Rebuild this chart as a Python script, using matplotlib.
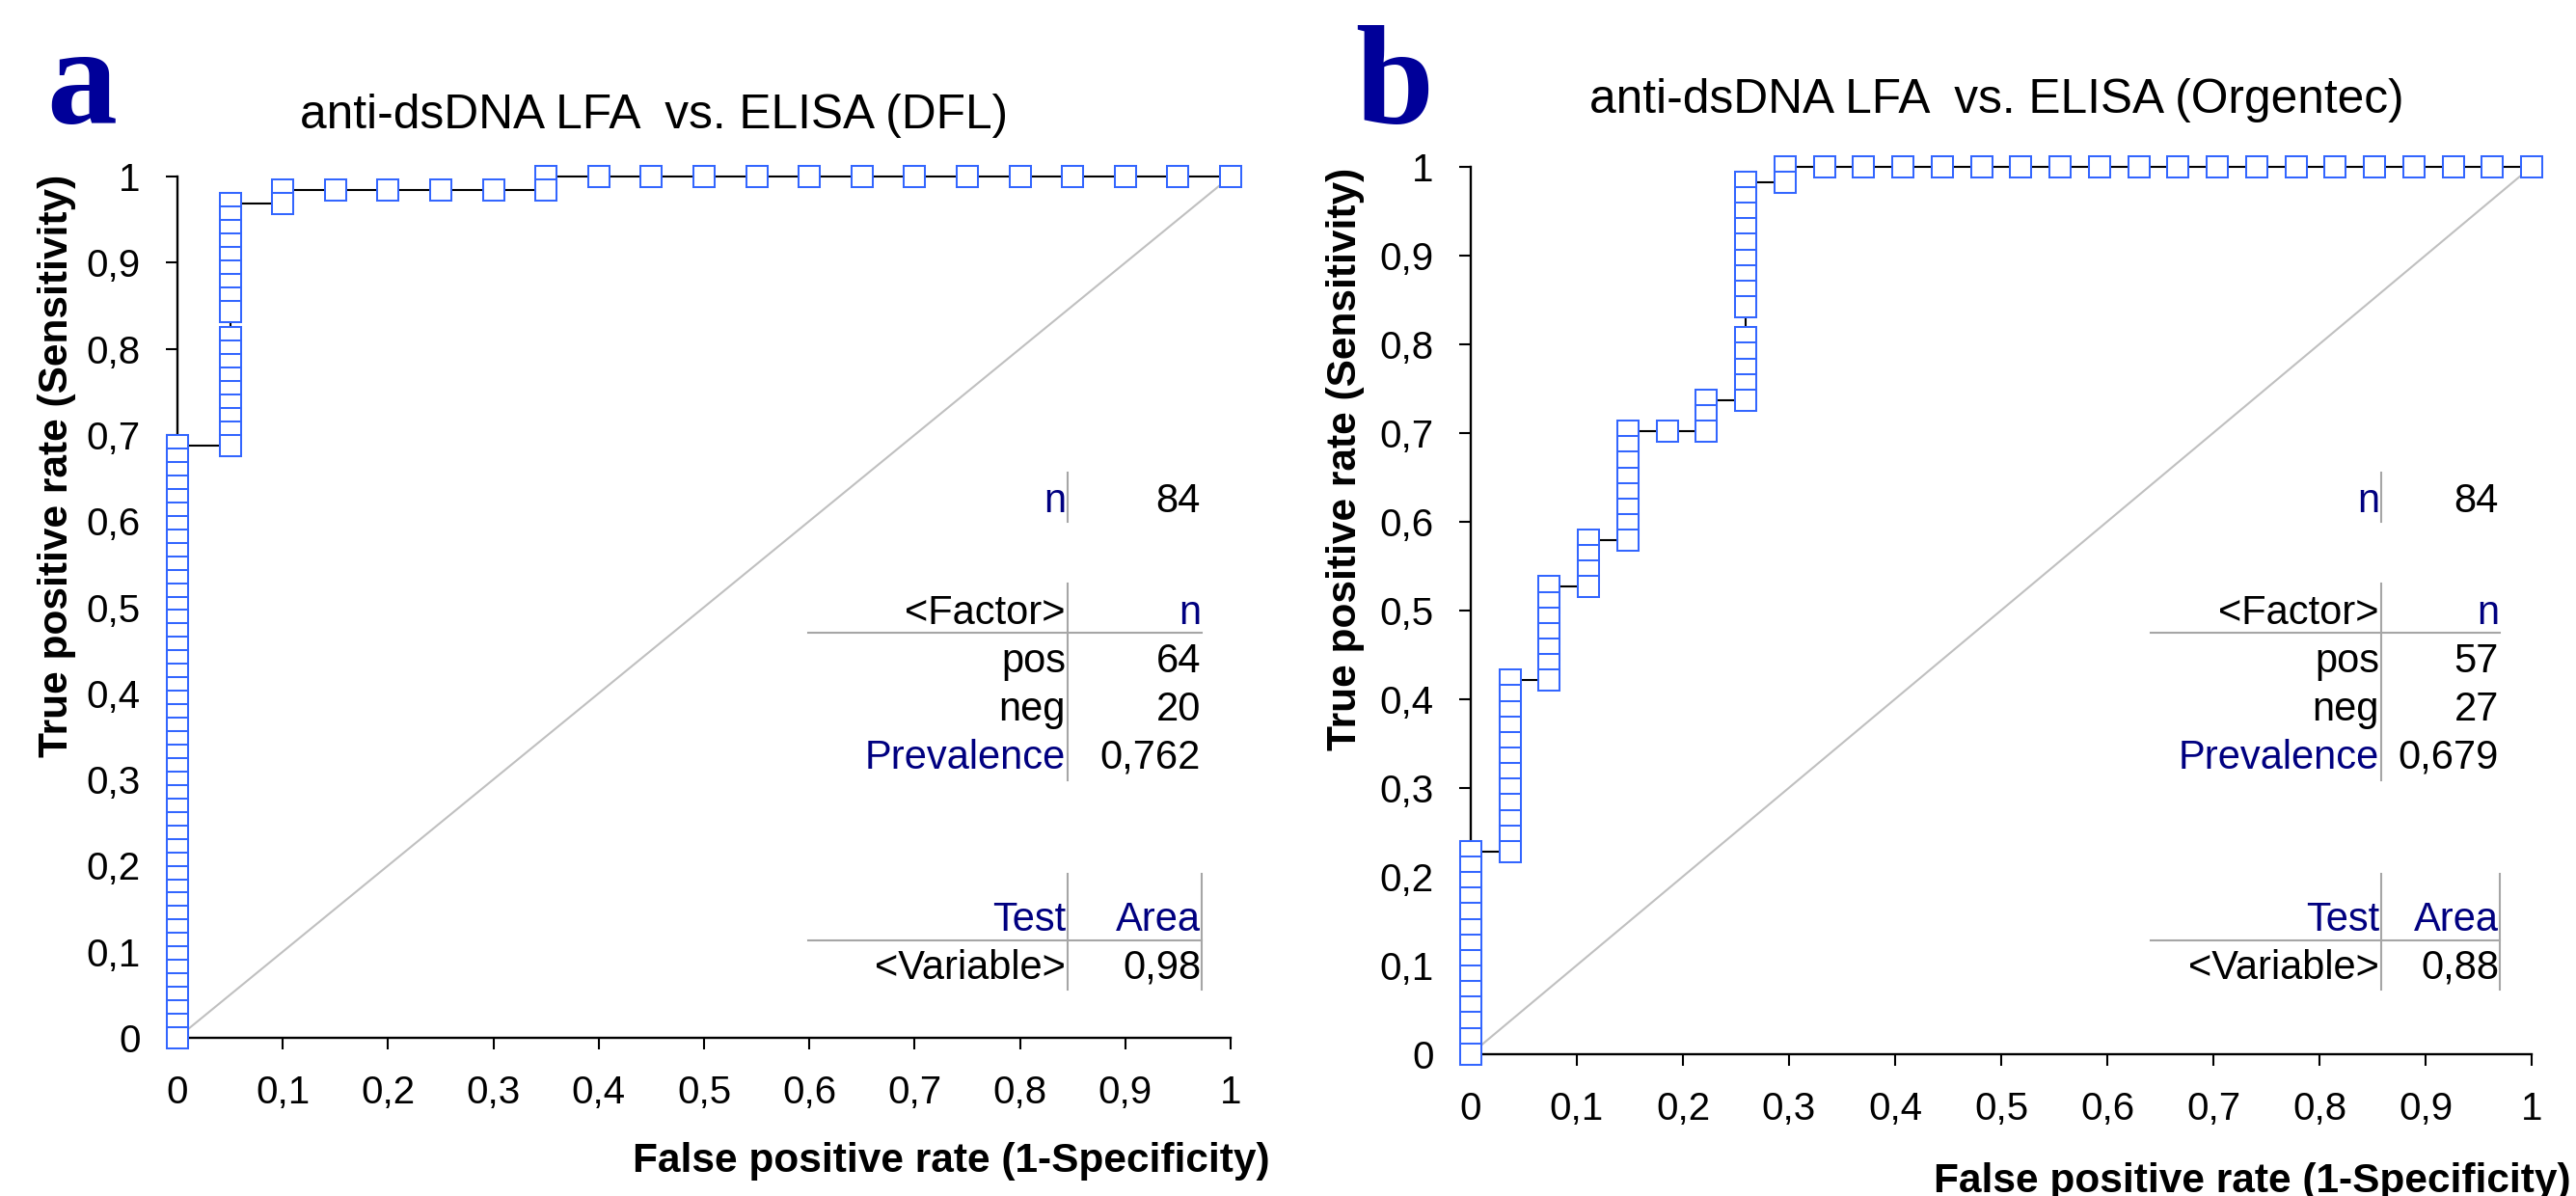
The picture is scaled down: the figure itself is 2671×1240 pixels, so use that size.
import matplotlib
matplotlib.use("Agg")
import matplotlib.pyplot as plt
from matplotlib.lines import Line2D
from matplotlib.ticker import FuncFormatter

W, H = 2671, 1240
DPI = 100

plt.rcParams['font.family'] = ['Liberation Sans', 'DejaVu Sans']

# ROC steps: (false positives, first true positive, last true positive)
dfl_runs = [(0, 0, 44), (1, 44, 52), (1, 54, 62), (2, 62, 63), (3, 63, 63),
            (4, 63, 63), (5, 63, 63), (6, 63, 63), (7, 63, 64),
            (8, 64, 64), (9, 64, 64), (10, 64, 64), (11, 64, 64), (12, 64, 64),
            (13, 64, 64), (14, 64, 64), (15, 64, 64), (16, 64, 64), (17, 64, 64),
            (18, 64, 64), (19, 64, 64), (20, 64, 64)]
org_runs = [(0, 0, 13), (1, 13, 24), (2, 24, 30), (3, 30, 33), (4, 33, 40),
            (5, 40, 40), (6, 40, 42), (7, 42, 46), (7, 48, 56), (8, 56, 57),
            (9, 57, 57), (10, 57, 57), (11, 57, 57), (12, 57, 57), (13, 57, 57),
            (14, 57, 57), (15, 57, 57), (16, 57, 57), (17, 57, 57), (18, 57, 57),
            (19, 57, 57), (20, 57, 57), (21, 57, 57), (22, 57, 57), (23, 57, 57),
            (24, 57, 57), (25, 57, 57), (26, 57, 57), (27, 57, 57)]

# summary tables
dfl_n, dfl_pos, dfl_neg, dfl_prev, dfl_area = 84, 64, 20, 0.762, 0.98
org_n, org_pos, org_neg, org_prev, org_area = 84, 57, 27, 0.679, 0.88

ticks = [0, 0.1, 0.2, 0.3, 0.4, 0.5, 0.6, 0.7, 0.8, 0.9, 1]

NAVY = '#000080'
GRID = '#a6a6a6'
BLUE = '#3366ff'


def comma(v, digits):
    return f"{v:.{digits}f}".replace('.', ',')


def tick_fmt(v, pos):
    if abs(v) < 1e-9:
        return '0'
    if abs(v - 1) < 1e-9:
        return '1'
    return comma(v, 1)


def expand(runs, n_neg, n_pos):
    xs, ys = [], []
    for fp, lo, hi in runs:
        for tp in range(lo, hi + 1):
            xs.append(fp / n_neg)
            ys.append(tp / n_pos)
    # drawn from the (1,1) end down to the origin
    return xs[::-1], ys[::-1]


def fx(x):
    return x / W


def fy(y):
    return 1 - y / H


def make_axes(fig, left, right, top, bottom):
    ax = fig.add_axes([fx(left), fy(bottom), (right - left) / W, (bottom - top) / H])
    ax.set_xlim(0, 1)
    ax.set_ylim(0, 1)
    for s in ['top', 'right']:
        ax.spines[s].set_visible(False)
    for s in ['left', 'bottom']:
        ax.spines[s].set_linewidth(1.7)
    ax.set_xticks(ticks)
    ax.set_yticks(ticks)
    ax.xaxis.set_major_formatter(FuncFormatter(tick_fmt))
    ax.yaxis.set_major_formatter(FuncFormatter(tick_fmt))
    ax.tick_params(direction='out', length=8.6, width=1.5, labelsize=29, pad=19)
    ax.patch.set_alpha(0)
    return ax


def draw_roc(ax, runs, n_neg, n_pos):
    ax.plot([0, 1], [0, 1], color='#c0c0c0', lw=1.5, zorder=1, clip_on=False)
    xs, ys = expand(runs, n_neg, n_pos)
    ax.plot(xs, ys, color='black', lw=1.5, marker='s', markersize=16,
            mfc='white', mec=BLUE, mew=1.45, zorder=3, clip_on=False)


def hline(fig, x0, x1, y):
    fig.add_artist(Line2D([fx(x0), fx(x1)], [fy(y), fy(y)], color=GRID, lw=1.5,
                          transform=fig.transFigure))


def vline(fig, x, y0, y1):
    fig.add_artist(Line2D([fx(x), fx(x)], [fy(y0), fy(y1)], color=GRID, lw=1.5,
                          transform=fig.transFigure))


def cell(fig, x, y, s, color='black'):
    fig.text(fx(x), fy(y), s, ha='right', va='baseline', fontsize=30, color=color)


def draw_tables(fig, x_rule, x_mid, x_right, n, pos, neg, prev, area):
    xl = x_mid - 2
    xr = x_right - 1
    # sample size
    vline(fig, x_mid, 490, 541)
    cell(fig, xl, 531, 'n', NAVY)
    cell(fig, xr, 531, str(n))
    # factor counts
    vline(fig, x_mid, 605, 809)
    hline(fig, x_rule, x_right, 656)
    cell(fig, xl, 647, '<Factor>')
    cell(fig, xr, 647, 'n', NAVY)
    cell(fig, xl, 697, 'pos')
    cell(fig, xr, 697, str(pos))
    cell(fig, xl, 747, 'neg')
    cell(fig, xr, 747, str(neg))
    cell(fig, xl, 797, 'Prevalence', NAVY)
    cell(fig, xr, 797, comma(prev, 3))
    # area under curve
    vline(fig, x_mid, 906, 1026)
    vline(fig, x_right, 906, 1026)
    hline(fig, x_rule, x_right, 975)
    cell(fig, xl, 965, 'Test', NAVY)
    cell(fig, xr, 965, 'Area', NAVY)
    cell(fig, xl, 1015, '<Variable>')
    cell(fig, xr, 1015, comma(area, 2))


fig = plt.figure(figsize=(W / DPI, H / DPI), dpi=DPI)
fig.patch.set_facecolor('white')

# panel a
ax_a = make_axes(fig, 184, 1276, 183, 1076)
draw_roc(ax_a, dfl_runs, dfl_neg, dfl_pos)
draw_tables(fig, 838, 1107, 1246, dfl_n, dfl_pos, dfl_neg, dfl_prev, dfl_area)
fig.text(fx(48), fy(127), 'a', family='Liberation Serif', fontweight='bold',
         fontsize=105, color='#000099', ha='left', va='baseline')
fig.text(fx(311), fy(133), 'anti-dsDNA LFA  vs. ELISA (DFL)', fontsize=35.7,
         ha='left', va='baseline')
fig.text(fx(59), fy(483), 'True positive rate (Sensitivity)', rotation=90,
         fontsize=30.5, fontweight='bold', ha='center', va='center')
fig.text(fx(986), fy(1215), 'False positive rate (1-Specificity)', fontsize=30.5,
         fontweight='bold', ha='center', va='baseline')

# panel b
ax_b = make_axes(fig, 1525, 2625, 172.7, 1092.7)
draw_roc(ax_b, org_runs, org_neg, org_pos)
draw_tables(fig, 2230, 2469, 2592, org_n, org_pos, org_neg, org_prev, org_area)
fig.text(fx(1405), fy(128), 'b', family='Liberation Serif', fontweight='bold',
         fontsize=105, color='#000099', ha='left', va='baseline')
fig.text(fx(1648), fy(117), 'anti-dsDNA LFA  vs. ELISA (Orgentec)', fontsize=35.7,
         ha='left', va='baseline')
fig.text(fx(1395), fy(476), 'True positive rate (Sensitivity)', rotation=90,
         fontsize=30.5, fontweight='bold', ha='center', va='center')
fig.text(fx(2335), fy(1236), 'False positive rate (1-Specificity)', fontsize=30.5,
         fontweight='bold', ha='center', va='baseline')

fig.savefig('out.png', dpi=DPI, facecolor='white')
